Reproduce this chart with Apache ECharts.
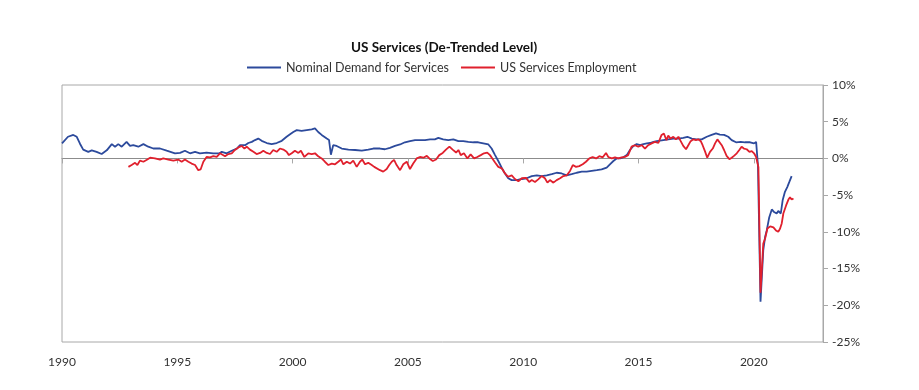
<!DOCTYPE html>
<html>
<head>
<meta charset="utf-8">
<script src="https://cdn.jsdelivr.net/npm/echarts@6/dist/echarts.min.js"></script>
<style>
html,body{margin:0;padding:0;background:#fff;}
#chart{width:919px;height:390px;}
</style>
</head>
<body>
<div id="chart"></div>
<script>
const titleText = 'US Services (De-Trended Level)';
const blueName = 'Nominal Demand for Services';
const redName = 'US Services Employment';

const blueDates = [1990.0,1990.26,1990.49,1990.64,1990.78,1990.92,1991.14,1991.29,1991.5,1991.72,1991.94,1992.16,1992.3,1992.44,1992.59,1992.8,1992.95,1993.09,1993.31,1993.53,1993.74,1993.96,1994.25,1994.54,1994.9,1995.12,1995.33,1995.55,1995.77,1995.98,1996.27,1996.56,1996.82,1996.93,1997.14,1997.36,1997.58,1997.72,1997.94,1998.08,1998.23,1998.37,1998.51,1998.66,1998.88,1999.09,1999.31,1999.53,1999.74,1999.89,2000.03,2000.18,2000.39,2000.61,2000.83,2000.97,2001.11,2001.26,2001.48,2001.58,2001.66,2001.76,2001.91,2002.13,2002.42,2002.71,2003.0,2003.28,2003.5,2003.79,2004.0,2004.22,2004.44,2004.66,2004.87,2005.09,2005.31,2005.52,2005.74,2005.96,2006.17,2006.32,2006.53,2006.75,2006.97,2007.19,2007.4,2007.62,2007.84,2008.05,2008.27,2008.49,2008.63,2008.78,2008.92,2009.07,2009.21,2009.35,2009.5,2009.72,2009.94,2010.15,2010.37,2010.59,2010.8,2011.02,2011.24,2011.45,2011.67,2011.89,2012.1,2012.32,2012.54,2012.75,2012.97,2013.19,2013.4,2013.62,2013.76,2013.91,2014.05,2014.2,2014.34,2014.49,2014.63,2014.78,2014.92,2015.07,2015.21,2015.36,2015.5,2015.65,2015.79,2016.08,2016.29,2016.51,2016.73,2016.94,2017.12,2017.31,2017.52,2017.74,2017.96,2018.17,2018.36,2018.53,2018.71,2018.89,2019.04,2019.23,2019.43,2019.62,2019.84,2020.01,2020.1,2020.18,2020.29,2020.41,2020.49,2020.56,2020.67,2020.78,2020.88,2020.99,2021.06,2021.17,2021.25,2021.35,2021.45,2021.54,2021.64];
const blueValues = [2.05,2.95,3.2,2.95,2.0,1.2,0.9,1.1,0.9,0.6,1.1,1.95,1.6,1.95,1.6,2.25,1.7,1.8,1.6,1.95,1.6,1.35,1.35,1.05,0.7,0.75,1.05,0.7,0.9,0.7,0.8,0.7,0.7,0.9,0.7,1.05,1.35,1.8,1.8,2.1,2.25,2.5,2.7,2.4,2.1,1.95,2.1,2.4,2.95,3.3,3.6,3.85,3.75,3.85,3.95,4.1,3.6,3.2,2.7,2.5,0.5,1.8,1.7,1.35,1.2,1.15,1.05,1.2,1.35,1.35,1.25,1.45,1.7,1.9,2.2,2.35,2.5,2.5,2.5,2.6,2.6,2.8,2.6,2.5,2.6,2.35,2.35,2.25,2.2,2.2,2.05,1.9,1.35,0.45,-0.35,-1.3,-2.05,-2.7,-2.95,-2.95,-2.8,-2.7,-2.4,-2.3,-2.4,-2.3,-2.15,-1.95,-2.05,-2.3,-2.15,-1.95,-1.8,-1.8,-1.7,-1.6,-1.5,-1.25,-0.8,-0.35,0,0,0.15,0.45,1.15,1.7,1.95,1.8,1.95,2.05,2.1,2.25,2.35,2.5,2.6,2.7,2.7,2.8,2.95,2.7,2.6,2.6,2.95,3.2,3.4,3.25,3.2,2.95,2.5,2.2,2.25,2.2,2.2,2.05,2.25,-1.0,-19.5,-12.5,-10.7,-9.8,-8.0,-6.95,-7.3,-7.5,-7.15,-7.5,-5.7,-4.55,-3.9,-3.2,-2.4];

const redDates = [1992.88,1993.02,1993.17,1993.27,1993.38,1993.53,1993.7,1993.82,1994.03,1994.25,1994.39,1994.61,1994.83,1995.04,1995.19,1995.33,1995.48,1995.62,1995.77,1995.91,1996.01,1996.13,1996.27,1996.42,1996.56,1996.71,1996.85,1996.93,1997.07,1997.21,1997.36,1997.5,1997.65,1997.79,1997.91,1998.01,1998.15,1998.3,1998.44,1998.59,1998.73,1998.88,1999.02,1999.16,1999.31,1999.45,1999.6,1999.74,1999.84,1999.96,2000.1,2000.25,2000.36,2000.51,2000.68,2000.83,2000.97,2001.11,2001.26,2001.4,2001.55,2001.7,2001.84,2001.98,2002.1,2002.2,2002.35,2002.49,2002.63,2002.78,2002.92,2003.02,2003.14,2003.28,2003.43,2003.54,2003.79,2003.93,2004.08,2004.19,2004.3,2004.4,2004.51,2004.66,2004.8,2004.95,2005.09,2005.23,2005.38,2005.52,2005.67,2005.82,2005.93,2006.08,2006.22,2006.36,2006.51,2006.65,2006.8,2006.94,2007.09,2007.19,2007.29,2007.43,2007.58,2007.72,2007.87,2008.01,2008.16,2008.3,2008.44,2008.56,2008.66,2008.78,2008.92,2009.07,2009.21,2009.35,2009.5,2009.64,2009.79,2009.94,2010.12,2010.26,2010.37,2010.51,2010.65,2010.8,2010.94,2011.05,2011.16,2011.31,2011.45,2011.6,2011.74,2011.89,2012.03,2012.15,2012.29,2012.43,2012.58,2012.72,2012.87,2013.01,2013.16,2013.3,2013.45,2013.59,2013.69,2013.84,2013.98,2014.12,2014.27,2014.41,2014.55,2014.7,2014.84,2014.99,2015.14,2015.28,2015.42,2015.57,2015.71,2015.86,2016.0,2016.1,2016.21,2016.29,2016.39,2016.51,2016.62,2016.73,2016.83,2016.94,2017.06,2017.16,2017.26,2017.38,2017.49,2017.59,2017.7,2017.78,2017.88,2017.98,2018.1,2018.22,2018.32,2018.42,2018.5,2018.61,2018.71,2018.82,2018.94,2019.04,2019.14,2019.26,2019.37,2019.47,2019.57,2019.69,2019.81,2019.91,2020.01,2020.1,2020.2,2020.29,2020.41,2020.49,2020.59,2020.71,2020.85,2020.96,2021.06,2021.14,2021.21,2021.28,2021.4,2021.5,2021.57,2021.64,2021.72];
const redValues = [-1.15,-0.9,-0.6,-0.9,-0.3,-0.45,-0.15,0.1,0,-0.15,0,-0.15,-0.3,-0.15,-0.45,-0.15,-0.45,-0.7,-0.9,-1.6,-1.5,-0.45,0.2,0.15,0.3,0.2,0.7,0.6,0.3,0.6,0.7,1.15,1.5,1.7,1.35,1.6,1.2,0.9,0.6,0.75,1.05,0.75,0.6,1.15,0.9,1.35,1.2,0.9,0.45,0.7,1.05,0.75,1.05,0.2,0.7,0.6,0.7,0.3,0,-0.45,-0.9,-0.7,-0.8,-0.45,-0.15,-0.8,-0.45,-0.7,-0.3,-1.15,-0.45,-0.15,-0.8,-0.6,-0.9,-1.15,-1.6,-1.8,-1.45,-0.9,-0.45,-0.2,-0.9,-1.6,-0.8,-0.45,-1.45,-0.7,0,0.2,0.1,0.35,0,-0.35,-0.15,0.45,0.75,1.2,1.6,1.2,0.8,1.15,0.45,0.7,0,0.55,0,0.2,0.45,0.7,0.8,0.45,0,-0.55,-1.15,-1.35,-2.05,-2.5,-2.3,-2.8,-3.1,-2.7,-2.65,-3.2,-2.95,-3.2,-2.85,-2.4,-2.7,-3.3,-2.95,-3.3,-2.95,-2.7,-2.4,-2.3,-1.7,-0.9,-1.15,-1.05,-0.8,-0.45,0,0.2,0,0.3,0.15,0.75,0.2,0,0.15,0,0.15,0.2,0.45,1.6,1.8,1.6,1.8,1.35,1.8,2.05,2.25,2.1,3.2,3.4,2.5,3.1,2.7,2.95,2.6,2.95,2.35,1.7,1.25,1.8,2.35,2.6,2.5,2.6,2.35,1.8,1.0,0.1,0.9,1.35,2.05,2.6,2.5,1.8,1.15,0.35,-0.1,0.1,0.35,0.7,1.15,1.6,1.35,1.25,0.9,1.0,0.7,0.2,-1.2,-18.3,-11.6,-10.9,-9.55,-9.25,-9.4,-9.8,-10.0,-9.55,-8.85,-7.5,-6.4,-5.6,-5.3,-5.6,-5.45];

const xTickLabels = [1990, 1995, 2000, 2005, 2010, 2015, 2020];
const yTicks = [10, 5, 0, -5, -10, -15, -20, -25];

const blueColor = '#2c4a9c';
const redColor = '#e0202d';
const FONT = 'Lato';

const zip = (d, v) => d.map((x, i) => [x, v[i]]);

const chart = echarts.init(document.getElementById('chart'), null, {renderer: 'canvas'});
chart.setOption({
  animation: false,
  backgroundColor: '#ffffff',
  title: {
    text: titleText,
    left: 346, top: 36,
    textStyle: {fontFamily: FONT, fontSize: 13.5, fontWeight: 'bold', color: '#111'}
  },
  legend: {
    left: 242, top: 56,
    itemWidth: 34, itemHeight: 2, itemGap: 12,
    icon: 'rect',
    textStyle: {fontFamily: FONT, fontSize: 12.5, color: '#333'},
    data: [blueName, redName]
  },
  grid: {
    left: 62, right: 96, top: 85, bottom: 48,
    show: true, borderColor: '#a8a8a8', borderWidth: 1
  },
  xAxis: [{
    type: 'value', min: 1990, max: 2023, interval: 5,
    position: 'bottom',
    axisLine: {show: false, onZero: false},
    axisTick: {show: false},
    splitLine: {show: false},
    axisLabel: {
      margin: 14,
      fontFamily: FONT, fontSize: 12, color: '#333',
      formatter: v => xTickLabels.includes(Math.round(v)) && Math.abs(v - Math.round(v)) < 1e-6 ? String(Math.round(v)) : '',
      showMaxLabel: false
    }
  }, {
    type: 'value', min: 1990, max: 2023, interval: 5,
    position: 'bottom',
    axisLine: {show: true, onZero: true, lineStyle: {color: '#8c8c8c', width: 1}},
    axisTick: {show: true, inside: false, length: 5, lineStyle: {color: '#a8a8a8'}},
    splitLine: {show: false},
    axisLabel: {show: false}
  }],
  yAxis: {
    type: 'value', min: -25, max: 10, interval: 5,
    position: 'right',
    axisLine: {show: true, lineStyle: {color: '#a8a8a8'}},
    axisTick: {show: true, inside: false, length: 5, lineStyle: {color: '#a8a8a8'}},
    splitLine: {show: false},
    axisLabel: {
      margin: 9, fontFamily: FONT, fontSize: 12, color: '#333',
      formatter: v => yTicks.includes(v) ? v + '%' : ''
    }
  },
  series: [{
    name: blueName, type: 'line', xAxisIndex: 0,
    data: zip(blueDates, blueValues),
    showSymbol: false, symbol: 'none',
    lineStyle: {color: blueColor, width: 1.8},
    itemStyle: {color: blueColor},
    z: 3
  }, {
    name: redName, type: 'line', xAxisIndex: 0,
    data: zip(redDates, redValues),
    showSymbol: false, symbol: 'none',
    lineStyle: {color: redColor, width: 1.8},
    itemStyle: {color: redColor},
    z: 4
  }]
});
</script>
</body>
</html>
